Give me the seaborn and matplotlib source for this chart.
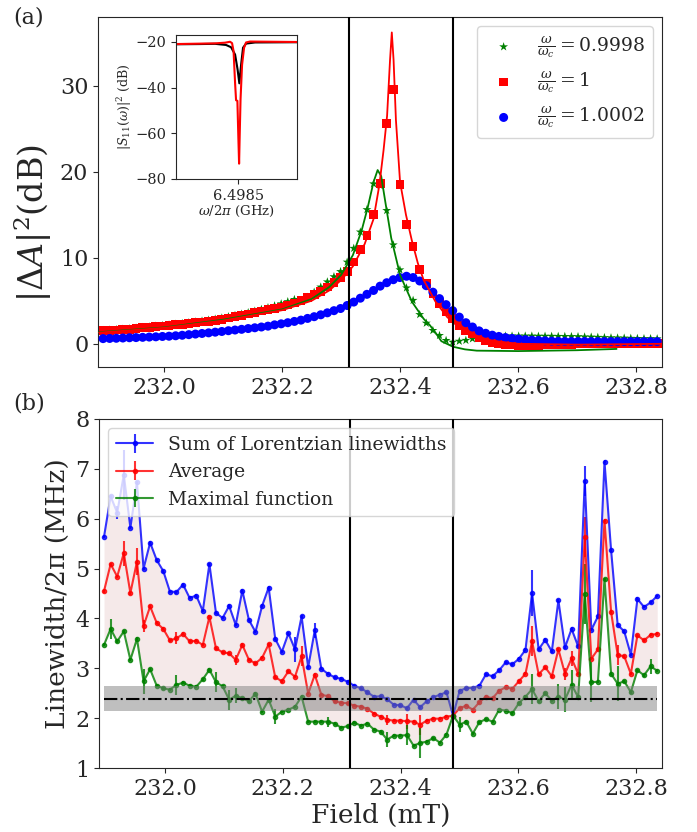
import numpy as np
import matplotlib
matplotlib.use('Agg')
import matplotlib.pyplot as plt
import seaborn as sns

sns.set_style('ticks')
plt.rcParams['font.family'] = ['DejaVu Serif']
plt.rcParams['mathtext.fontset'] = 'dejavuserif'

# field sweep (mT), same points in both panels
field_start, field_stop, n_field = 231.8966, 232.8358, 85
field = np.linspace(field_start, field_stop, n_field)

# ---- panel (a): |dA|^2 (dB) for three drive frequencies ----
green_pts = [1.55, 1.60, 1.65, 1.70, 1.75, 1.83, 1.90, 1.97, 2.05, 2.12,
             2.20, 2.28, 2.36, 2.45, 2.55, 2.65, 2.75, 2.87, 3.00, 3.15,
             3.30, 3.45, 3.62, 3.80, 4.00, 4.20, 4.42, 4.65, 4.90, 5.15,
             5.00, 5.40, 6.00, 6.60, 7.20, 7.80, 8.40, 9.50, 11.1, 13.0,
             15.6, 18.6, 18.4, 15.5, 11.5, 8.6, 6.5, 5.05, 3.4, 2.4,
             1.55, 0.97, 0.39, 0.19, 0.30, 0.40, 0.58, 0.70, 0.80, 0.85,
             0.88, 0.90, 0.90, 0.90, 0.90, 0.90, 0.88, 0.88, 0.87, 0.86,
             0.85, 0.84, 0.83, 0.80, 0.78, 0.75, 0.72, 0.70, 0.68, 0.66,
             0.64, 0.62, 0.60, 0.60, 0.58]
red_pts = [1.50, 1.55, 1.60, 1.65, 1.70, 1.78, 1.85, 1.92, 2.00, 2.06,
           2.12, 2.20, 2.28, 2.36, 2.45, 2.53, 2.62, 2.72, 2.85, 3.00,
           3.15, 3.30, 3.45, 3.62, 3.80, 3.95, 4.10, 4.28, 4.50, 4.75,
           5.05, 5.35, 5.70, 6.10, 6.60, 7.10, 7.70, 8.40, 9.50, 11.0,
           12.6, 15.0, 18.6, 25.6, 29.6, 18.5, 13.9, 11.3, 8.6, 7.0,
           5.8, 4.66, 3.7, 2.9, 2.13, 1.55, 1.17, 0.77, 0.39, 0.19,
           0.0, -0.08, -0.15, -0.2, -0.2, -0.2, -0.18, -0.15, -0.12, -0.1,
           -0.08, -0.05, -0.03, 0.0, 0.0, 0.02, 0.03, 0.05, 0.05, 0.05,
           0.05, 0.05, 0.05, 0.05, 0.05]
blue_pts = [0.60, 0.62, 0.64, 0.67, 0.70, 0.72, 0.75, 0.78, 0.81, 0.85,
            0.88, 0.93, 0.99, 1.06, 1.13, 1.20, 1.27, 1.35, 1.43, 1.52,
            1.60, 1.68, 1.77, 1.86, 1.95, 2.05, 2.20, 2.32, 2.45, 2.60,
            2.75, 2.95, 3.15, 3.37, 3.60, 3.85, 4.10, 4.45, 4.85, 5.30,
            5.75, 6.20, 6.70, 7.10, 7.45, 7.70, 7.85, 7.70, 7.30, 6.75,
            6.00, 5.25, 4.55, 3.85, 3.10, 2.45, 1.95, 1.50, 1.22, 1.00,
            0.85, 0.72, 0.62, 0.55, 0.48, 0.42, 0.38, 0.34, 0.30, 0.28,
            0.26, 0.26, 0.26, 0.26, 0.25, 0.25, 0.25, 0.25, 0.25, 0.25,
            0.25, 0.25, 0.25, 0.25, 0.25]

# fitted curves (field, dB)
green_fit_x = [231.89, 232.0, 232.1, 232.2, 232.25, 232.28, 232.30, 232.32, 232.335,
               232.345, 232.355, 232.362, 232.368, 232.375, 232.385, 232.40, 232.42,
               232.44, 232.45, 232.46, 232.47, 232.49, 232.51, 232.53, 232.6, 232.7, 232.767]
green_fit_y = [1.35, 1.9, 2.8, 4.0, 5.2, 6.6, 8.0, 10.3, 13.2,
               15.8, 18.8, 20.2, 19.5, 16.5, 12.3, 8.0, 4.9,
               2.9, 2.2, 1.3, 0.3, -0.35, -0.65, -0.8, -0.85, -0.75, -0.6]
red_fit_x = [231.89, 232.0, 232.1, 232.2, 232.25, 232.28, 232.30, 232.32, 232.34,
             232.355, 232.365, 232.372, 232.378, 232.383, 232.386, 232.389, 232.393,
             232.40, 232.41, 232.42, 232.43, 232.44, 232.46, 232.48, 232.50, 232.52,
             232.55, 232.6, 232.7, 232.85]
red_fit_y = [1.3, 1.85, 2.7, 3.9, 5.0, 6.2, 7.4, 9.0, 11.6,
             14.5, 18.5, 22.5, 26.5, 33.0, 36.2, 33.0, 26.0,
             18.8, 15.0, 12.0, 9.4, 7.4, 4.9, 3.1, 1.9, 1.1,
             0.4, 0.0, -0.1, 0.0]

# inset: reflection spectrum |S11|^2 (dB)
inset_black_f = [6.497473, 6.497869, 6.498116, 6.498297, 6.498380, 6.498446, 6.498487,
                 6.498516, 6.498545, 6.498577, 6.498627, 6.498775, 6.499468]
inset_black_db = [-21.0, -20.9, -20.8, -21.3, -22.3, -25.5, -32.0,
                  -38.1, -30.0, -22.5, -20.7, -20.2, -20.1]
inset_red_f = [6.497473, 6.498116, 6.498281, 6.498363, 6.498396, 6.498421, 6.498446,
               6.498462, 6.498484, 6.498500, 6.498512, 6.498521, 6.498536, 6.498561,
               6.498594, 6.498627, 6.498693, 6.499468]
inset_red_db = [-20.9, -20.6, -20.3, -19.9, -20.5, -24.0, -38.0,
                -45.5, -45.8, -62.0, -73.3, -62.0, -45.0, -30.0,
                -22.5, -20.2, -19.8, -20.0]

# ---- panel (b): linewidths (MHz) ----
lw_sum = [5.64, 6.45, 6.12, 6.88, 5.82, 6.73, 5.00, 5.52, 5.17, 4.95,
          4.54, 4.53, 4.68, 4.41, 4.46, 4.15, 5.09, 4.11, 4.01, 4.25,
          3.87, 4.56, 3.97, 3.73, 4.25, 4.62, 3.59, 3.33, 3.70, 3.38,
          4.04, 3.02, 3.76, 2.99, 2.89, 2.82, 2.79, 2.73, 2.65, 2.60,
          2.52, 2.43, 2.44, 2.38, 2.27, 2.26, 2.20, 2.37, 2.22, 2.34,
          2.42, 2.47, 2.52, 2.05, 2.55, 2.60, 2.61, 2.65, 2.88, 2.84,
          2.96, 3.12, 3.08, 3.19, 3.37, 4.51, 3.38, 3.57, 3.34, 4.36,
          3.42, 3.79, 3.44, 6.76, 3.77, 4.04, 7.14, 5.37, 3.87, 3.74,
          3.27, 4.39, 4.23, 4.32, 4.45]
lw_avg = [4.55, 5.09, 4.84, 5.31, 4.51, 5.14, 3.85, 4.24, 3.91, 3.79,
          3.56, 3.60, 3.69, 3.54, 3.55, 3.47, 4.03, 3.40, 3.32, 3.30,
          3.17, 3.47, 3.17, 3.10, 3.21, 3.48, 2.82, 2.74, 2.94, 2.83,
          3.24, 2.49, 2.87, 2.47, 2.44, 2.34, 2.31, 2.30, 2.25, 2.23,
          2.19, 2.09, 2.03, 1.97, 1.95, 1.95, 1.94, 1.93, 1.87, 1.95,
          1.99, 1.99, 2.03, 2.05, 2.20, 2.25, 2.17, 2.32, 2.43, 2.40,
          2.55, 2.62, 2.59, 2.74, 2.89, 3.54, 2.88, 3.02, 2.84, 3.38,
          2.89, 3.20, 2.89, 5.63, 3.19, 3.38, 5.96, 4.13, 3.27, 3.24,
          2.89, 3.66, 3.56, 3.67, 3.69]
lw_max = [3.47, 3.79, 3.54, 3.74, 3.17, 3.59, 2.74, 2.98, 2.65, 2.60,
          2.57, 2.67, 2.71, 2.65, 2.63, 2.78, 2.97, 2.72, 2.64, 2.37,
          2.45, 2.40, 2.34, 2.49, 2.13, 2.37, 2.03, 2.13, 2.17, 2.23,
          2.43, 1.93, 1.93, 1.93, 1.93, 1.89, 1.81, 1.84, 1.91, 1.85,
          1.89, 1.77, 1.73, 1.57, 1.65, 1.65, 1.66, 1.45, 1.50, 1.53,
          1.60, 1.51, 1.67, 2.05, 1.87, 1.93, 1.69, 1.92, 1.98, 1.93,
          2.17, 2.15, 2.10, 2.30, 2.43, 2.58, 2.34, 2.50, 2.35, 2.43,
          2.37, 2.67, 2.42, 4.49, 2.72, 2.73, 4.79, 2.89, 2.69, 2.74,
          2.52, 2.96, 2.86, 3.04, 2.95]
# error bars: small everywhere, larger at these indices
base_err = 0.03
sum_err_big = {2: 0.13, 3: 0.5, 29: 0.25, 32: 0.15, 65: 0.47, 73: 0.3}
avg_err_big = {3: 0.25, 5: 0.27, 6: 0.12, 11: 0.12, 20: 0.1, 30: 0.2, 43: 0.1, 46: 0.15,
               48: 0.2, 65: 0.3, 70: 0.12, 71: 0.15, 73: 0.4, 78: 0.2}
max_err_big = {1: 0.2, 6: 0.25, 11: 0.2, 17: 0.2, 19: 0.2, 20: 0.15, 26: 0.15, 34: 0.1,
               43: 0.15, 46: 0.2, 48: 0.3, 54: 0.15, 65: 0.3, 69: 0.25, 70: 0.25,
               71: 0.3, 73: 0.6, 74: 0.4, 78: 0.35, 83: 0.15}

noise_level = 2.39
noise_band = (2.134, 2.65)
res_lines = [232.314, 232.489]


def make_err(big):
    e = np.full(n_field, base_err)
    for k, v in big.items():
        e[k] = v
    return e


fig = plt.figure(figsize=(6.97, 8.32), dpi=100)
ax1 = fig.add_axes([0.1406, 0.5589, 0.8092, 0.4207])
ax2 = fig.add_axes([0.1420, 0.0769, 0.8078, 0.4195])

# panel (a)
sns.scatterplot(x=field, y=green_pts, marker='*', color='green', s=45, edgecolor='none',
                label=r'$\frac{\omega}{\omega_c} = 0.9998$', ax=ax1, zorder=3)
sns.scatterplot(x=field, y=red_pts, marker='s', color='red', s=40, edgecolor='none',
                label=r'$\frac{\omega}{\omega_c} = 1$', ax=ax1, zorder=3)
sns.scatterplot(x=field, y=blue_pts, marker='o', color='blue', s=42, edgecolor='none',
                label=r'$\frac{\omega}{\omega_c} = 1.0002$', ax=ax1, zorder=3)
ax1.plot(green_fit_x, green_fit_y, color='green', lw=1.3, zorder=4)
ax1.plot(red_fit_x, red_fit_y, color='red', lw=1.3, zorder=4)
for xv in res_lines:
    ax1.axvline(xv, color='black', lw=1.5, zorder=5)
ax1.set_xlim(231.888, 232.844)
ax1.set_ylim(-2.7, 38)
ax1.set_yticks([0, 10, 20, 30])
ax1.set_xticks([232.0, 232.2, 232.4, 232.6, 232.8])
ax1.set_xticklabels(['232.0', '232.2', '232.4', '232.6', '232.8'])
ax1.tick_params(labelsize=16)
ax1.set_ylabel(r'$|\Delta A|^2$(dB)', fontsize=24)
ax1.yaxis.set_label_coords(-0.078, 0.41)
ax1.legend(loc='upper right', fontsize=13.5)

# inset
axi = fig.add_axes([0.2525, 0.7849, 0.1741, 0.1734])
axi.plot(inset_black_f, inset_black_db, color='black', lw=1.5)
axi.plot(inset_red_f, inset_red_db, color='red', lw=1.5)
axi.set_xlim(6.497472, 6.499472)
axi.set_ylim(-80, -16.8)
axi.set_xticks([6.4985])
axi.set_xticklabels(['6.4985'])
axi.set_yticks([-80, -60, -40, -20])
axi.tick_params(labelsize=10.5)
axi.set_xlabel(r'$\omega/2\pi$ (GHz)', fontsize=9.5, labelpad=1)
axi.set_ylabel(r'$|S_{11}(\omega)|^2$ (dB)', fontsize=9, labelpad=1)

# panel (b)
ax2.fill_between(field, lw_max, lw_sum, color='brown', alpha=0.1, lw=0)
ax2.errorbar(field, lw_sum, yerr=make_err(sum_err_big), color='blue', marker='o', ms=3,
             lw=1.5, alpha=0.8, label='Sum of Lorentzian linewidths')
ax2.errorbar(field, lw_avg, yerr=make_err(avg_err_big), color='red', marker='o', ms=3,
             lw=1.5, alpha=0.8, label='Average')
ax2.errorbar(field, lw_max, yerr=make_err(max_err_big), color='green', marker='o', ms=3,
             lw=1.5, alpha=0.8, label='Maximal function')
ax2.fill_between(field, noise_band[0], noise_band[1], color='gray', alpha=0.5, lw=0, zorder=4)
ax2.hlines(noise_level, field[0], field[-1], color='black', lw=1.5, linestyles='-.', zorder=5)
for xv in res_lines:
    ax2.axvline(xv, color='black', lw=1.5, zorder=5)
ax2.set_xlim(231.888, 232.844)
ax2.set_ylim(1, 8)
ax2.set_xticks([232.0, 232.2, 232.4, 232.6, 232.8])
ax2.set_xticklabels(['232.0', '232.2', '232.4', '232.6', '232.8'])
ax2.tick_params(labelsize=16)
ax2.set_ylabel('Linewidth/2π (MHz)', fontsize=19)
ax2.set_xlabel('Field (mT)', fontsize=19, labelpad=2)
ax2.legend(loc='upper left', fontsize=13.5)

fig.text(0.019, 0.992, '(a)', fontsize=16, va='top')
fig.text(0.019, 0.528, '(b)', fontsize=16, va='top')

fig.savefig('out.png', dpi=100)
